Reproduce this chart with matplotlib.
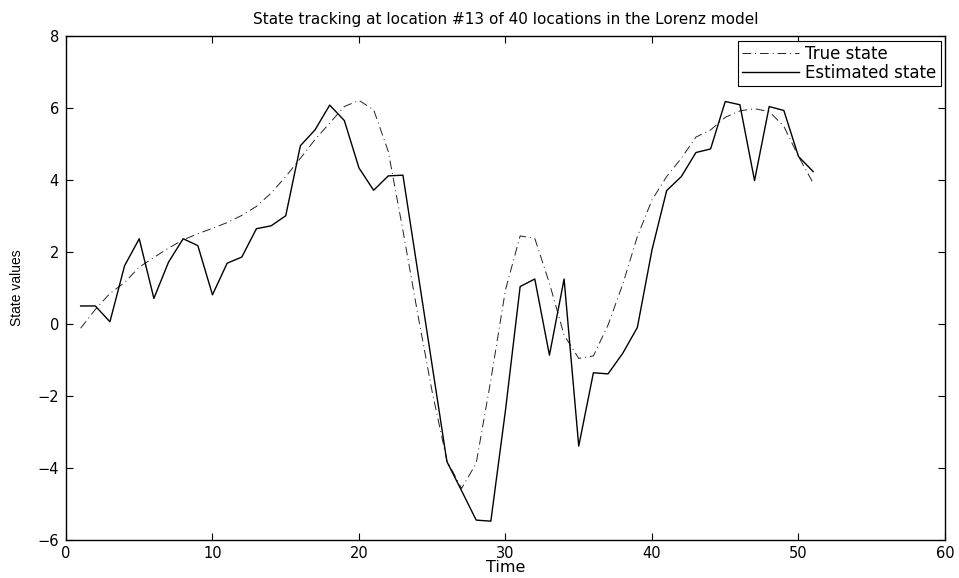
import numpy as np
import matplotlib.pyplot as plt

plt.rcParams['font.family'] = ['DejaVu Sans']

# time steps and state values
time = np.arange(1, 52)

true_state = [-0.12, 0.40, 0.85, 1.15, 1.58, 1.85, 2.11, 2.34, 2.51, 2.66,
              2.82, 3.02, 3.27, 3.64, 4.10, 4.61, 5.13, 5.59, 6.05, 6.22,
              5.96, 4.80, 2.60, 0.30, -1.90, -3.80, -4.58, -3.88, -1.56, 0.95,
              2.45, 2.38, 1.13, -0.31, -0.96, -0.89, -0.03, 1.10, 2.43, 3.45,
              4.10, 4.61, 5.20, 5.40, 5.75, 5.93, 5.99, 5.91, 5.50, 4.66,
              3.92]

est_state = [0.50, 0.50, 0.06, 1.62, 2.37, 0.71, 1.72, 2.37, 2.18, 0.81,
             1.69, 1.86, 2.65, 2.73, 3.01, 4.96, 5.40, 6.09, 5.66, 4.34,
             3.72, 4.12, 4.14, 1.49, -1.17, -3.83, -4.64, -5.46, -5.49, -2.40,
             1.04, 1.25, -0.87, 1.25, -3.40, -1.36, -1.39, -0.82, -0.10, 2.06,
             3.71, 4.10, 4.77, 4.87, 6.19, 6.10, 3.99, 6.05, 5.94, 4.66,
             4.24]

xticks = [0, 10, 20, 30, 40, 50, 60]
yticks = [-6, -4, -2, 0, 2, 4, 6, 8]

fig = plt.figure(figsize=(9.59, 5.78), dpi=100)
ax = fig.add_axes([0.0688, 0.0666, 0.9166, 0.8703])

ax.plot(time, true_state, color='#222222', linewidth=0.7,
        linestyle=(0, (9, 4, 1, 4)), label='True state')
ax.plot(time, est_state, color='black', linewidth=1.0, label='Estimated state')

ax.set_xlim(0, 60)
ax.set_ylim(-6, 8)
ax.set_xticks(xticks)
ax.set_yticks(yticks)
ax.tick_params(direction='in', length=5, width=0.8, top=True, right=True,
               labelsize=10.5)
ax.tick_params(axis='x', pad=5)
ax.tick_params(axis='y', pad=5)
for s in ax.spines.values():
    s.set_linewidth(1.0)

ax.set_xlabel('Time', fontsize=11.5, labelpad=-1)
ax.set_ylabel('State values', fontsize=10, family='Liberation Sans', labelpad=10)
ax.set_title('State tracking at location #13 of 40 locations in the Lorenz model',
             fontsize=11, pad=9)

leg = ax.legend(loc='upper right', prop={'size': 12}, fancybox=False,
                framealpha=1, edgecolor='black', borderaxespad=0.25,
                handlelength=3.4, borderpad=0.25, labelspacing=0.05,
                handletextpad=0.4)
leg.get_frame().set_linewidth(0.8)

fig.savefig('out.png', dpi=100)
